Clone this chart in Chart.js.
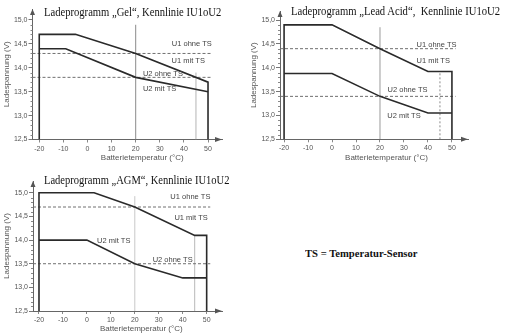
<!DOCTYPE html>
<html>
<head>
<meta charset="utf-8">
<script src="https://cdn.jsdelivr.net/npm/chart.js@4"></script>
<style>
  body { margin: 0; background: #fff; }
  #page { position: relative; width: 523px; height: 336px; overflow: hidden; background: #fff; }
  canvas { position: absolute; }
  .title { position: absolute; font-family: 'Liberation Serif', serif; font-size: 11.5px; color: #111; white-space: pre; line-height: 1; transform-origin: 0 0; }
  .note { font-size: 11px; font-weight: bold; }
</style>
</head>
<body>
<div id="page">
  <canvas id="gel"></canvas>
  <canvas id="lead"></canvas>
  <canvas id="agm"></canvas>
  <div class="title" data-w="177" style="left:44px;top:7px">Ladeprogramm „Gel“, Kennlinie IU1oU2</div>
  <div class="title" data-w="209" style="left:291px;top:6px">Ladeprogramm „Lead Acid“,  Kennlinie IU1oU2</div>
  <div class="title" data-w="185" style="left:44px;top:175px">Ladeprogramm „AGM“, Kennlinie IU1oU2</div>
  <div class="title note" data-w="112" style="left:305px;top:248px">TS = Temperatur-Sensor</div>
</div>
<script>
const xTicks = [-20, -10, 0, 10, 20, 30, 40, 50];
const yTicks = [12.5, 13.0, 13.5, 14.0, 14.5, 15.0];
const curveNames = ['U1 ohne TS', 'U1 mit TS', 'U2 ohne TS', 'U2 mit TS'];
const markTemps = [20, 45];

// Gel
const gelU1Temp = [-20, -20, -5, 20, 50, 50];
const gelU1 = [12.5, 14.7, 14.7, 14.3, 13.7, 12.5];
const gelU2Temp = [-20, -9, 20, 50];
const gelU2 = [14.4, 14.4, 13.8, 13.5];
const gelOhneTS = [14.3, 13.8];
const gelMarkTop = [14.9, 13.9];

// Lead Acid
const leadU1Temp = [-20, -20, 0, 20, 40, 50, 50];
const leadU1 = [12.5, 14.9, 14.9, 14.4, 13.92, 13.92, 12.5];
const leadU2Temp = [-20, 0, 20, 40, 50];
const leadU2 = [13.88, 13.88, 13.4, 13.05, 13.05];
const leadOhneTS = [14.4, 13.4];
const leadMarkTop = [14.85, 13.92];

// AGM
const agmU1Temp = [-20, -20, 3, 20, 45, 50, 50];
const agmU1 = [12.5, 15.0, 15.0, 14.7, 14.1, 14.1, 12.5];
const agmU2Temp = [-20, 0, 20, 40, 50];
const agmU2 = [14.0, 14.0, 13.5, 13.2, 13.2];
const agmOhneTS = [14.7, 13.5];
const agmMarkTop = [14.93, 14.1];

// where the curve names sit (°C, V), same order as curveNames
const gelNameAt = [[43.3, 14.49], [41.8, 14.14], [31.3, 13.88], [29.9, 13.55]];
const leadNameAt = [[43.6, 14.48], [42.2, 14.14], [31.5, 13.53], [30.0, 13.0]];
const agmNameAt = [[43.2, 14.91], [43.5, 14.47], [35.8, 13.59], [11.2, 13.98]];

// Überschriften auf ihre Breite bringen
document.querySelectorAll('.title').forEach(el => {
  el.style.transform = 'scaleX(' + (Number(el.dataset.w) / el.offsetWidth) + ')';
});

Chart.defaults.font.family = '"Liberation Sans", Arial, sans-serif';

const pts = (xs, ys) => xs.map((x, i) => ({ x: x, y: ys[i] }));
const comma = v => v.toFixed(1).replace('.', ',');

function deco(c) {
  return {
    id: 'deco',
    afterDraw(chart) {
      const { ctx, chartArea: a, scales: { x, y } } = chart;
      ctx.save();
      // Pfeilspitzen an den Achsen
      ctx.fillStyle = '#555';
      ctx.beginPath();
      ctx.moveTo(a.right, a.bottom);
      ctx.lineTo(a.right - 7, a.bottom - 2.5);
      ctx.lineTo(a.right - 7, a.bottom + 2.5);
      ctx.fill();
      ctx.beginPath();
      ctx.moveTo(a.left, a.top);
      ctx.lineTo(a.left - 2.5, a.top + 6);
      ctx.lineTo(a.left + 2.5, a.top + 6);
      ctx.fill();
      // kleine Zwischenstriche auf der Spannungsachse
      ctx.strokeStyle = '#888';
      ctx.lineWidth = 1;
      ctx.beginPath();
      for (let k = 126; k < 150; k++) {
        if (k % 5 === 0) continue;
        const py = Math.round(y.getPixelForValue(k / 10)) + 0.5;
        ctx.moveTo(a.left - 2, py);
        ctx.lineTo(a.left, py);
      }
      ctx.stroke();
      // Kurvenbeschriftung
      ctx.font = '7.5px "Liberation Sans", Arial, sans-serif';
      ctx.fillStyle = '#444';
      ctx.textAlign = 'center';
      ctx.textBaseline = 'middle';
      c.nameAt.forEach(([t, v], i) => {
        ctx.fillText(curveNames[i], x.getPixelForValue(t), y.getPixelForValue(v));
      });
      // Achsentitel
      ctx.font = '8px "Liberation Sans", Arial, sans-serif';
      ctx.fillStyle = '#555';
      ctx.fillText('Batterietemperatur (°C)', x.getPixelForValue(22.7), a.bottom + 18);
      ctx.translate(a.left - 26, (a.top + a.bottom) / 2);
      ctx.rotate(-Math.PI / 2);
      ctx.fillText('Ladespannung (V)', 0, 0);
      ctx.restore();
    }
  };
}

function build(c) {
  const canvas = document.getElementById(c.id);
  canvas.width = c.canvas.w;
  canvas.height = c.canvas.h;
  canvas.style.left = c.canvas.x + 'px';
  canvas.style.top = c.canvas.y + 'px';
  const yW = c.box.l - c.canvas.x;
  const xH = c.canvas.y + c.canvas.h - c.box.b;

  const curve = { borderColor: '#2a2a2a', borderWidth: 1.6 };
  const dashed = { borderColor: '#707070', borderWidth: 1, borderDash: [3, 2] };
  const datasets = [
    { data: pts(c.u1Temp, c.u1), ...curve },
    { data: pts(c.u2Temp, c.u2), ...curve },
    ...c.ohne.map(v => ({ data: [{ x: c.xMin, y: v }, { x: 51.5, y: v }], ...dashed })),
    { data: [{ x: markTemps[0], y: 12.5 }, { x: markTemps[0], y: c.markTop[0] }],
      borderColor: c.mark20, borderWidth: 1 },
    { data: [{ x: markTemps[1], y: 12.5 }, { x: markTemps[1], y: c.markTop[1] }],
      borderColor: c.mark45, borderWidth: 1, borderDash: c.dash45 }
  ];

  new Chart(canvas, {
    type: 'line',
    data: { datasets: datasets },
    options: {
      responsive: false,
      animation: false,
      events: [],
      elements: { point: { radius: 0 }, line: { tension: 0, fill: false } },
      layout: {
        padding: {
          left: 0, bottom: 0,
          top: c.box.t - c.canvas.y,
          right: c.canvas.x + c.canvas.w - c.box.r
        }
      },
      plugins: { legend: { display: false }, tooltip: { enabled: false } },
      scales: {
        x: {
          type: 'linear', min: c.xMin, max: c.xMax,
          afterBuildTicks: s => { s.ticks = xTicks.map(v => ({ value: v })); },
          afterFit: s => { s.height = xH; },
          ticks: { color: '#555', font: { size: 7 }, maxRotation: 0, padding: 2 },
          grid: { drawOnChartArea: false, tickLength: 3, color: '#888' },
          border: { color: '#666', width: 1 }
        },
        y: {
          type: 'linear', min: 12.5, max: c.yMax,
          afterBuildTicks: s => { s.ticks = yTicks.map(v => ({ value: v })); },
          afterFit: s => { s.width = yW; },
          ticks: { color: '#555', font: { size: 7 }, padding: 1, callback: v => comma(v) },
          grid: { drawOnChartArea: false, tickLength: 4, color: '#777' },
          border: { color: '#666', width: 1 }
        }
      }
    },
    plugins: [deco(c)]
  });
}

build({
  id: 'gel', canvas: { x: 0, y: 0, w: 240, h: 166 }, box: { l: 32.5, t: 9, r: 222, b: 139.5 },
  xMin: -22.8, xMax: 55.8, yMax: 15.23,
  u1Temp: gelU1Temp, u1: gelU1, u2Temp: gelU2Temp, u2: gelU2, ohne: gelOhneTS,
  markTop: gelMarkTop, mark20: '#8a8a8a', mark45: '#b5b5b5', dash45: [],
  nameAt: gelNameAt
});

build({
  id: 'lead', canvas: { x: 240, y: 0, w: 283, h: 166 }, box: { l: 280, t: 11, r: 468, b: 139.3 },
  xMin: -21.7, xMax: 56.7, yMax: 15.19,
  u1Temp: leadU1Temp, u1: leadU1, u2Temp: leadU2Temp, u2: leadU2, ohne: leadOhneTS,
  markTop: leadMarkTop, mark20: '#9a9a9a', mark45: '#8a8a8a', dash45: [2, 2],
  nameAt: leadNameAt
});

build({
  id: 'agm', canvas: { x: 0, y: 168, w: 262, h: 168 }, box: { l: 33, t: 181, r: 222, b: 311 },
  xMin: -22.5, xMax: 56.4, yMax: 15.25,
  u1Temp: agmU1Temp, u1: agmU1, u2Temp: agmU2Temp, u2: agmU2, ohne: agmOhneTS,
  markTop: agmMarkTop, mark20: '#c8c8c8', mark45: '#b8b8b8', dash45: [],
  nameAt: agmNameAt
});
</script>
</body>
</html>
